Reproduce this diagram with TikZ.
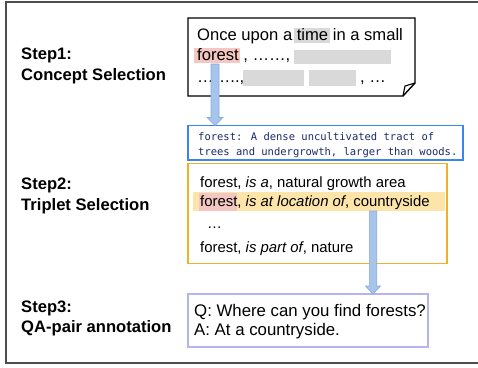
\documentclass[tikz,border=0pt]{standalone}
\usepackage{fontspec}
\setmainfont{Liberation Sans}
\newfontfamily\defmono{DejaVu Sans Mono}
\definecolor{pinkhl}{HTML}{F4C7C3}
\definecolor{grayhl}{HTML}{D9D9D9}
\definecolor{defblue}{HTML}{3A86EE}
\definecolor{deftext}{HTML}{1C2A6B}
\definecolor{orangeb}{HTML}{EFB02C}
\definecolor{orangehl}{HTML}{FDE4A9}
\definecolor{lavb}{HTML}{B4B4EE}
\definecolor{arrfill}{HTML}{A7C4EA}
\definecolor{arrdraw}{HTML}{86A9DB}
\definecolor{framec}{HTML}{4D4D4D}
\tikzset{
  steplbl/.style={anchor=base west, inner sep=0pt, font=\fontsize{16.6}{20}\selectfont\bfseries},
  txt/.style={anchor=base west, inner sep=0pt, font=\fontsize{16.6}{20}\selectfont},
  trip/.style={anchor=base west, inner sep=0pt, font=\fontsize{14.9}{18}\selectfont},
  qatxt/.style={anchor=base west, inner sep=0pt, font=\fontsize{16.8}{20}\selectfont},
  deftxt/.style={anchor=base west, inner sep=0pt, text=deftext, font=\defmono\fontsize{10.5}{13}\selectfont},
  hlbox/.style={anchor=north west, inner sep=0pt, draw=none, outer sep=0pt},
  framebox/.style={anchor=north west, inner sep=0pt, outer sep=0pt, fill=white},
  notebox/.style={draw=black, line width=1.4pt, line join=miter},
  bigarrow/.style={fill=arrfill, draw=arrdraw, line width=0.6pt},
  outerframe/.style={draw=framec, line width=1.4pt}
}
\begin{document}
\begin{tikzpicture}[x=1pt,y=-1pt]
\useasboundingbox (0,0) rectangle (478,367);
% outer frame
\draw[outerframe] (492,2) -- (6,2) -- (6,363) -- (492,363);

% step labels
\node[steplbl] (s1a) at (21,59) {Step1:};
\node[steplbl] (s1b) at (21,80) {Concept Selection};
\node[steplbl] (s2a) at (21,189) {Step2:};
\node[steplbl] (s2b) at (21,210) {Triplet Selection};
\node[steplbl] (s3a) at (21,312) {Step3:};
\node[steplbl] (s3b) at (21,332) {QA-pair annotation};

% box 1 (note with folded corner)
\coordinate (n1) at (188,18);
\coordinate (n2) at (415,18);
\coordinate (n3) at (415,83);
\coordinate (n4) at (403,96);
\coordinate (n5) at (188,96);
\coordinate (n6) at (405,86);
\draw[notebox, fill=white] (n1) -- (n2) -- (n3) -- (n4) -- (n5) -- cycle;
\draw[notebox, line width=1.1pt] (n4) -- (n6) -- (n3);

\node[hlbox, fill=grayhl, minimum width=36pt, minimum height=15pt] (thl) at (294,28) {};
\node[hlbox, fill=pinkhl, minimum width=46pt, minimum height=15pt] (fhl) at (194,48) {};
\node[hlbox, fill=grayhl, minimum width=97pt, minimum height=14pt] (g1) at (294,50) {};
\node[hlbox, fill=grayhl, minimum width=61pt, minimum height=16pt] (g2) at (243,70) {};
\node[hlbox, fill=grayhl, minimum width=47pt, minimum height=16pt] (g3) at (309,70) {};

\node[txt] (t1) at (197,40) {Once upon a time in a small};
\node[txt] (t2) at (197,60) {forest , ……,};
\node[txt] (t3) at (197,82) {……..,};
\node[txt] (t4) at (360,82) {, …};

% definition box
\node[framebox, draw=defblue, line width=1.5pt, minimum width=275pt, minimum height=34.5pt] (def) at (188,125.5) {};
\node[deftxt] (d1) at (198,140) {forest: A dense uncultivated tract of};
\node[deftxt] (d2) at (198,155) {trees and undergrowth, larger than woods.};

% triplet box
\node[framebox, draw=orangeb, line width=1.8pt, minimum width=259pt, minimum height=100pt] (trp) at (188,163.5) {};
\node[hlbox, fill=orangehl, minimum width=252pt, minimum height=19pt] (obar) at (193,192) {};
\node[hlbox, fill=pinkhl, minimum width=38pt, minimum height=18pt] (fhl2) at (199,192.5) {};
\node[trip] (r1) at (200,187) {forest, \textit{is a}, natural growth area};
\node[trip] (r2) at (200,206) {forest, \textit{is at location of}, countryside};
\node[trip] (r3) at (207,228) {…};
\node[trip] (r4) at (200,252) {forest, \textit{is part of}, nature};

% QA box
\node[framebox, draw=lavb, line width=1.5pt, minimum width=240pt, minimum height=53pt] (qa) at (188,294) {};
\node[qatxt] (q) at (194,316.5) {Q: Where can you find forests?};
\node[qatxt] (a) at (194,335) {A: At a countryside.};

% arrow 1
\coordinate (a1s) at (215,64);
\coordinate (a1e) at (a1s |- def.north);
\path[bigarrow] ([shift={(-4,0)}]a1s) -- ([shift={(-4,-8)}]a1e) -- ([shift={(-8,-8)}]a1e) -- (a1e)
  -- ([shift={(8,-8)}]a1e) -- ([shift={(4,-8)}]a1e) -- ([shift={(4,0)}]a1s) -- cycle;

% arrow 2
\coordinate (a2s) at (373,211);
\coordinate (a2e) at (a2s |- qa.north);
\path[bigarrow] ([shift={(-3.7,0)}]a2s) -- ([shift={(-3.7,-8)}]a2e) -- ([shift={(-7.5,-8)}]a2e) -- (a2e)
  -- ([shift={(7.5,-8)}]a2e) -- ([shift={(3.7,-8)}]a2e) -- ([shift={(3.7,0)}]a2s) -- cycle;
\end{tikzpicture}
\end{document}
